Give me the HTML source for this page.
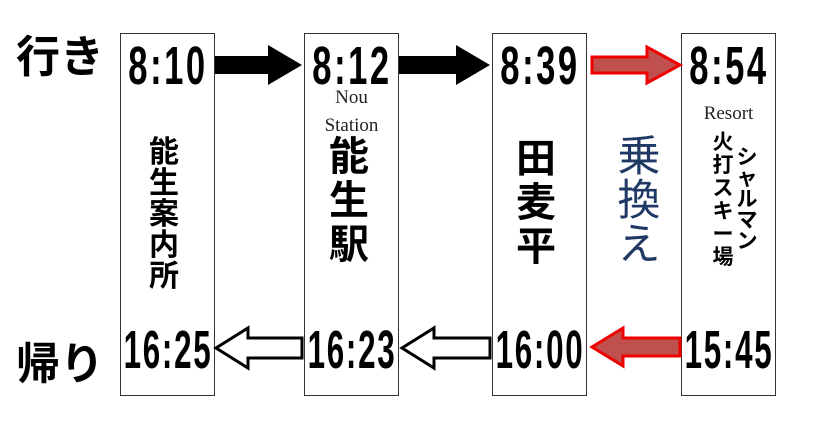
<!DOCTYPE html>
<html><head><meta charset="utf-8"><style>
body{margin:0;width:819px;height:426px;background:#fff;position:relative;overflow:hidden;font-family:"Liberation Sans","Noto Sans CJK JP",sans-serif}
.box{position:absolute;top:33px;width:95px;height:363px;border:1px solid #333;box-sizing:border-box}
.t{position:absolute;width:200px;text-align:center;font-size:54px;line-height:54px;letter-spacing:4px;transform:scaleX(0.64);transform-origin:center;color:#000;font-weight:bold}
.t5{letter-spacing:3px;transform:scaleX(0.58)}
.v{position:absolute;text-align:center;font-weight:bold;color:#000}
.v span{display:block}
.lab{position:absolute;font-size:44px;font-weight:bold;line-height:50px}
.s{position:absolute;font-family:"Liberation Serif",serif;font-size:19px;line-height:20px;color:#222;text-align:center}
</style></head><body>
<div class="box" style="left:120px"></div>
<div class="box" style="left:304px"></div>
<div class="box" style="left:492px"></div>
<div class="box" style="left:681px"></div>
<svg width="819" height="426" style="position:absolute;left:0;top:0">
<polygon points="215,56 268,56 268,45 302,65 268,85 268,74 215,74" fill="#000"/>
<polygon points="399,56 456,56 456,45 490,65 456,85 456,74 399,74" fill="#000"/>
<polygon points="592,57 647,57 647,47 680,65 647,83 647,73 592,73" fill="#c0504d" stroke="#e00" stroke-width="3"/>
<polygon points="302,338 248,338 248,328 216,348 248,368 248,358 302,358" fill="#fff" stroke="#000" stroke-width="3"/>
<polygon points="490,338 434,338 434,328 402,348 434,368 434,358 490,358" fill="#fff" stroke="#000" stroke-width="3"/>
<polygon points="680,338 623,338 623,328 592,347 623,366 623,356 680,356" fill="#c0504d" stroke="#e00" stroke-width="3"/>
</svg>
<div class="lab" style="left:16px;top:33px">行き</div>
<div class="lab" style="left:16px;top:340px">帰り</div>
<div class="t" style="left:68px;top:39px">8:10</div>
<div class="t" style="left:252px;top:39px">8:12</div>
<div class="t" style="left:440px;top:39px">8:39</div>
<div class="t" style="left:629px;top:39px">8:54</div>
<div class="t t5" style="left:68px;top:323px">16:25</div>
<div class="t t5" style="left:252px;top:323px">16:23</div>
<div class="t t5" style="left:440px;top:323px">16:00</div>
<div class="t t5" style="left:629px;top:323px">15:45</div>
<div class="s" style="left:304px;width:95px;top:88px">Nou</div>
<div class="s" style="left:304px;width:95px;top:116px">Station</div>
<div class="s" style="left:681px;width:95px;top:104px">Resort</div>
<div class="v" style="left:144px;width:40px;top:137px;font-size:30px;line-height:31px"><span>能</span><span>生</span><span>案</span><span>内</span><span>所</span></div>
<div class="v" style="left:327px;width:44px;top:135px;font-size:40px;line-height:44px"><span>能</span><span>生</span><span>駅</span></div>
<div class="v" style="left:514px;width:44px;top:137px;font-size:40px;line-height:44px"><span>田</span><span>麦</span><span>平</span></div>
<div class="v" style="left:615px;width:48px;top:135px;font-size:43px;line-height:44px;color:#1f3864;font-weight:normal"><span>乗</span><span>換</span><span>え</span></div>
<div class="v" style="left:711px;width:24px;top:131px;font-size:21px;line-height:23px"><span>火</span><span>打</span><span>ス</span><span>キ</span><span>ー</span><span>場</span></div>
<div class="v" style="left:735px;width:24px;top:147px;font-size:21px;line-height:21px"><span>シ</span><span>ャ</span><span>ル</span><span>マ</span><span>ン</span></div>
</body></html>
